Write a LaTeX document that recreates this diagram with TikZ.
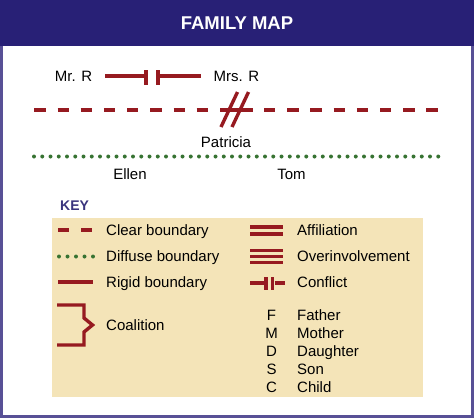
\documentclass[tikz,border=0pt]{standalone}
\usepackage{fontspec}
\setmainfont{Liberation Sans}
\definecolor{hdr}{RGB}{40,32,118}
\definecolor{brd}{RGB}{88,80,150}
\definecolor{bred}{RGB}{150,26,32}
\definecolor{dgreen}{RGB}{55,115,50}
\definecolor{beige}{RGB}{244,228,184}
\definecolor{keyc}{RGB}{58,52,125}
\tikzset{
  lbl/.style={inner sep=0pt, font=\fontsize{15}{16}\selectfont, text=black, anchor=base},
  klbl/.style={lbl, anchor=base west},
  redln/.style={draw=bred, line width=3.4pt},
  clearb/.style={redln, dash pattern=on 11.3pt off 11.9pt},
  gdot/.style={fill=dgreen, draw=none},
}
\begin{document}
\begin{tikzpicture}[x=1pt,y=-1pt]
\useasboundingbox (0,0) rectangle (474,418);
% frame
\fill[hdr] (0,0) rectangle (474,46);
\fill[brd] (0,46) rectangle (2.5,418);
\fill[brd] (471,46) rectangle (474,418);
\fill[brd] (0,415) rectangle (474,418);
\node[inner sep=0pt, text=white, font=\bfseries\fontsize{18.5}{20}\selectfont] (title) at (237,23) {FAMILY MAP};

% family map
\node[lbl] (mrr) at (73.5,81.4) {Mr. R};
\node[lbl] (mrsr) at (236.5,81.4) {Mrs. R};
\coordinate (c1) at (146,76);
\coordinate (c2) at (158,76);
\draw[redln, shorten <=13pt] (mrr.east |- c1) -- (c1);
\draw[redln, shorten >=13pt] (c2) -- (mrsr.west |- c2);
\draw[bred, line width=3.4pt] (146,70) -- (146,85);
\draw[bred, line width=3.4pt] (158,70) -- (158,85);

% clear boundary with break
\draw[clearb] (34.3,110) -- (209,110);
\draw[redln] (220,110) -- (253,110);
\draw[clearb] (264,110) -- (437.5,110);
\draw[redln] (221,127) -- (237.5,92);
\draw[redln] (232,127) -- (248.5,92);
\node[lbl] (patricia) at (226,147.4) {Patricia};

% diffuse boundary
\foreach \i in {0,...,49} {\fill[gdot] (34+8.25*\i,156.5) circle (2.0);}
\node[lbl] (ellen) at (130,179.4) {Ellen};
\node[lbl] (tom) at (291.5,179.4) {Tom};

% key
\node[inner sep=0pt, text=keyc, font=\bfseries\fontsize{14}{16}\selectfont, anchor=west] (key) at (60,206) {KEY};
\fill[beige] (52,218) rectangle (423,397);

\draw[clearb, dash pattern=on 11pt off 12pt] (58,230) -- (93,230);
\node[klbl] (clr) at (106,235.4) {Clear boundary};
\foreach \i in {0,...,4} {\fill[gdot] (59+8.5*\i,256.5) circle (2.0);}
\node[klbl] (dif) at (106,261.4) {Diffuse boundary};
\draw[redln] (58,282) -- (93,282);
\node[klbl] (rig) at (106,287.4) {Rigid boundary};
\draw[redln, line join=miter] (57,305) -- (84,305) -- (84,318) -- (92.5,325) -- (84,332) -- (84,345) -- (57,345);
\node[klbl] (coa) at (106,330.4) {Coalition};

\draw[redln, line width=3.2pt] (250,227) -- (283,227);
\draw[redln, line width=3.2pt] (250,234) -- (283,234);
\node[klbl] (aff) at (297,235.4) {Affiliation};
\draw[redln, line width=3.2pt] (250,250.3) -- (283,250.3);
\draw[redln, line width=3.2pt] (250,256.3) -- (283,256.3);
\draw[redln, line width=3.2pt] (250,262.3) -- (283,262.3);
\node[klbl] (ovr) at (297,261.4) {Overinvolvement};
\draw[redln] (250,283) -- (263.5,283);
\draw[redln] (274.5,283) -- (285,283);
\draw[bred, line width=3.2pt] (266,277) -- (266,289.5);
\draw[bred, line width=3.2pt] (272.5,277) -- (272.5,289.5);
\node[klbl] (con) at (297,287.4) {Conflict};

\node[lbl] (lf) at (271.5,320.4) {F};
\node[klbl] (wf) at (297,320.4) {Father};
\node[lbl] (lm) at (271.5,338.4) {M};
\node[klbl] (wm) at (297,338.4) {Mother};
\node[lbl] (ld) at (271.5,356.4) {D};
\node[klbl] (wd) at (297,356.4) {Daughter};
\node[lbl] (ls) at (271.5,374.4) {S};
\node[klbl] (ws) at (297,374.4) {Son};
\node[lbl] (lc) at (271.5,392.4) {C};
\node[klbl] (wc) at (297,392.4) {Child};
\end{tikzpicture}
\end{document}
